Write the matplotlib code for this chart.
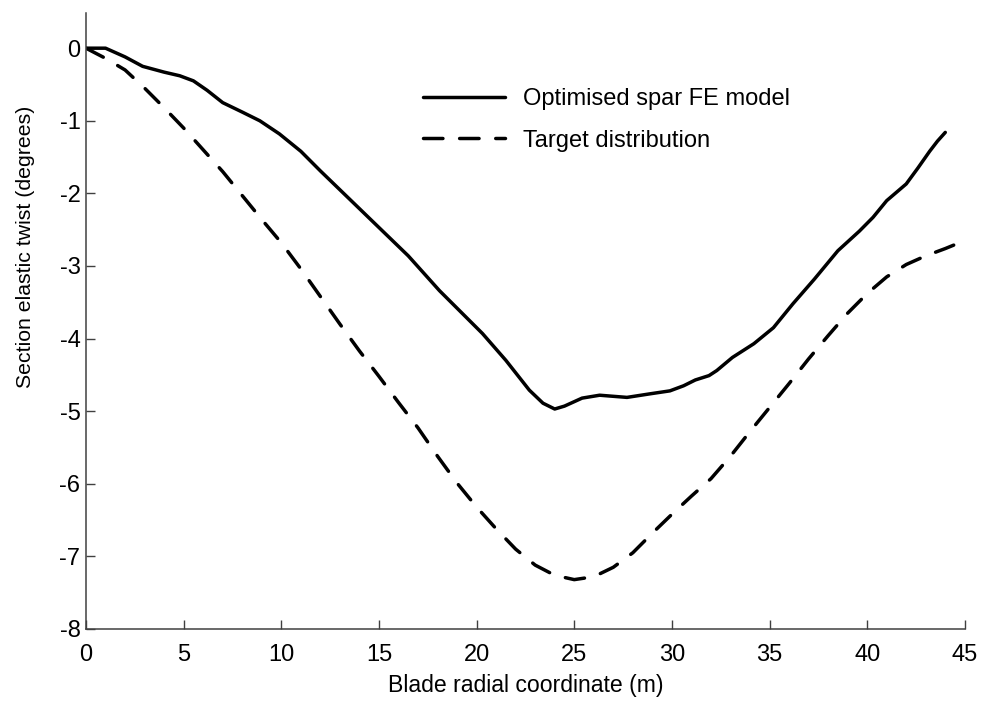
import numpy as np
import matplotlib.pyplot as plt

plt.rcParams['font.family'] = ['Liberation Sans', 'DejaVu Sans']
plt.rcParams['axes.unicode_minus'] = False

# optimised spar FE model: section twist along the blade
fe_r = [0, 1.0, 2.0, 2.9, 4.0, 4.8, 5.5, 6.2, 7.0, 8.0, 8.9, 9.9, 11.0, 12.0,
        13.5, 15.0, 16.5, 18.1, 20.3, 21.5, 22.7, 23.4, 24.0, 24.5, 25.4, 26.3,
        27.7, 28.9, 29.9, 30.6, 31.2, 31.9, 32.3, 33.1, 34.2, 35.2, 36.2, 37.3,
        38.5, 39.6, 40.3, 41.0, 42.0, 42.6, 43.2, 43.6, 44.0]
fe_twist = [0, 0, -0.12, -0.25, -0.33, -0.38, -0.45, -0.58, -0.75, -0.88, -1.0,
            -1.18, -1.42, -1.69, -2.08, -2.47, -2.86, -3.34, -3.93, -4.3, -4.71,
            -4.89, -4.97, -4.93, -4.82, -4.78, -4.81, -4.76, -4.72, -4.65, -4.57,
            -4.51, -4.44, -4.26, -4.07, -3.85, -3.52, -3.18, -2.79, -2.52, -2.33,
            -2.1, -1.87, -1.65, -1.42, -1.28, -1.16]

# target twist distribution
tgt_r = list(range(0, 46))
tgt_twist = [0, -0.14, -0.30, -0.55, -0.82, -1.10, -1.40, -1.70, -2.03, -2.36,
             -2.68, -3.04, -3.42, -3.80, -4.17, -4.52, -4.88, -5.23, -5.62,
             -5.99, -6.32, -6.62, -6.90, -7.12, -7.26, -7.32, -7.28, -7.15,
             -6.95, -6.68, -6.42, -6.17, -5.93, -5.62, -5.28, -4.95, -4.62,
             -4.28, -3.96, -3.65, -3.38, -3.15, -2.98, -2.86, -2.76, -2.65]

fs = 17

fig = plt.figure(figsize=(9.83, 7.02), dpi=100)
ax = fig.add_axes([0.0875, 0.104, 0.894, 0.877])

ax.plot(fe_r, fe_twist, color='black', lw=2.5, solid_capstyle='round',
        solid_joinstyle='round', label='Optimised spar FE model')
ax.plot(tgt_r, tgt_twist, color='black', lw=2.5, dashes=(5.6, 4.8),
        dash_capstyle='round', dash_joinstyle='round',
        label='Target distribution')

ax.set_xlim(0, 45)
ax.set_ylim(-8, 0.48)
ax.set_xticks(np.arange(0, 46, 5))
ax.set_yticks(np.arange(-8, 1, 1))

for side in ['top', 'right']:
    ax.spines[side].set_visible(False)
for side in ['left', 'bottom']:
    ax.spines[side].set_color('#404040')
    ax.spines[side].set_linewidth(1.1)

ax.tick_params(direction='in', length=6.5, width=1.0, color='#404040',
               labelsize=fs)
ax.tick_params(axis='x', pad=11)
ax.tick_params(axis='y', pad=4)

ax.set_xlabel('Blade radial coordinate (m)', fontsize=16.6)
ax.set_ylabel('Section elastic twist (degrees)', fontsize=15.3)
ax.xaxis.set_label_coords(0.5, -0.073)
ax.yaxis.set_label_coords(-0.058, 0.62)

ax.legend(loc='upper left', bbox_to_anchor=(0.359, 0.913), frameon=False,
          fontsize=fs, handlelength=3.5, handletextpad=0.75, labelspacing=0.82)

fig.savefig('out.png', dpi=100)
